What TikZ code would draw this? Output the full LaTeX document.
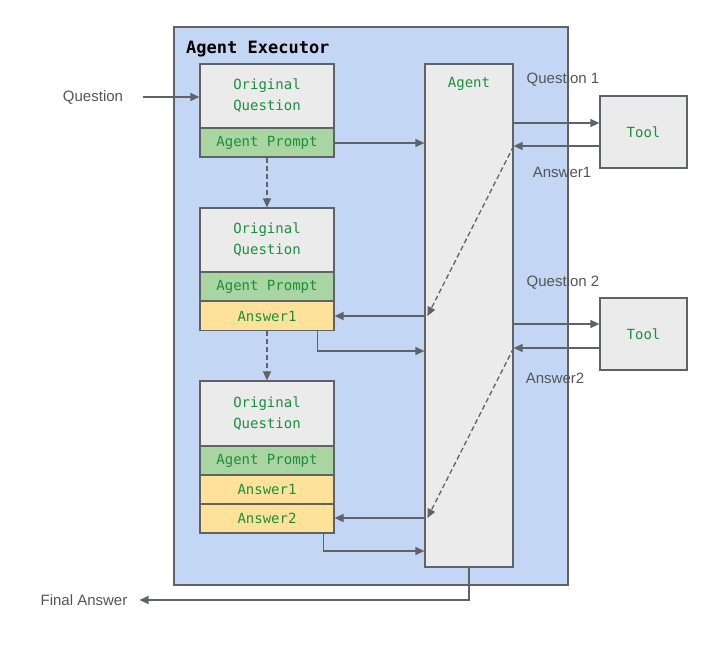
\documentclass[tikz,border=0pt]{standalone}
\usepackage{fontspec}
\setmainfont{Liberation Sans}
\setmonofont{DejaVu Sans Mono}
\usetikzlibrary{arrows.meta}

\definecolor{execblue}{HTML}{C3D7F4}
\definecolor{edgegray}{HTML}{5F6368}
\definecolor{boxgray}{HTML}{EBEBEB}
\definecolor{promptgreen}{HTML}{A8D5A2}
\definecolor{answeryellow}{HTML}{FFE29A}
\definecolor{textgreen}{HTML}{1E8E3E}
\definecolor{labelgray}{HTML}{555555}

\begin{document}
\begin{tikzpicture}[x=1pt,y=-1pt]
\tikzstyle{every node}+=[font=\fontsize{14}{17}\selectfont]
\tikzstyle{cell}=[draw=edgegray,line width=1.2pt,minimum width=134pt,inner sep=0pt,text=textgreen,font=\ttfamily\fontsize{14}{21}\selectfont,align=center]
\tikzstyle{origq}=[cell,fill=boxgray,minimum height=64pt]
\tikzstyle{prompt}=[cell,fill=promptgreen,minimum height=29pt]
\tikzstyle{answer}=[cell,fill=answeryellow,minimum height=29pt]
\tikzstyle{toolbox}=[cell,fill=boxgray,minimum width=87pt,minimum height=72pt]
\tikzstyle{lbl}=[text=labelgray,font=\fontsize{15}{18}\selectfont,inner sep=0pt]
\tikzstyle{flow}=[draw=edgegray,line width=1.4pt,-{Triangle[length=9pt,width=8pt]}]
\tikzstyle{back}=[flow,dash pattern=on 5pt off 3pt,line width=1.3pt]
\useasboundingbox (0,0) rectangle (726,653);
% executor frame
\draw [draw=edgegray,line width=1.2pt,fill=execblue] (174,27) rectangle (568,585);
\node [anchor=west,inner sep=0pt,font=\ttfamily\bfseries\fontsize{17}{20}\selectfont] (exectitle) at (186,49) {Agent Executor};
% first prompt
\node [origq] (oqa) at (267,96) {Original\\Question};
\node [prompt] (apa) at (267,142.5) {Agent Prompt};
% second prompt
\node [origq] (oqb) at (267,240) {Original\\Question};
\node [prompt] (apb) at (267,286.5) {Agent Prompt};
\node [answer] (ansb) at (267,316) {Answer1};
% third prompt
\node [origq,minimum height=65pt] (oqc) at (267,413.5) {Original\\Question};
\node [prompt] (apc) at (267,460.5) {Agent Prompt};
\node [answer] (ansca) at (267,489.5) {Answer1};
\node [answer] (anscb) at (267,518.5) {Answer2};
% agent and tools
\node [cell,fill=boxgray,minimum width=88pt,minimum height=503pt] (agent) at (469,315.5) {};
\node [text=textgreen,font=\ttfamily\fontsize{14}{17}\selectfont] (agentlbl) at (469,84) {Agent};
\node [toolbox] (toola) at (643.5,132) {Tool};
\node [toolbox] (toolb) at (643.5,334) {Tool};
% outside labels
\node [lbl] (question) at (93,97) {Question};
\node [lbl] (finalans) at (84,600) {Final Answer};
\node [lbl] (qalbl) at (563,79) {Question 1};
\node [lbl] (aalbl) at (562,172) {Answer1};
\node [lbl] (qblbl) at (563,282) {Question 2};
\node [lbl] (ablbl) at (555,378) {Answer2};
% connectors
\draw [flow] ([xshift=20pt]question.east) -- (oqa.west |- question);
\draw [flow] (apa.east |- 0,143) -- (agent.west |- 0,143);
\draw [back] (apa.south) -- (oqb.north);
\draw [back] (ansb.south) -- (oqc.north);
\draw [flow] (agent.west |- ansb) -- (ansb.east);
\draw [flow] ([xshift=-17pt]ansb.south east) |- (agent.west |- 0,351);
\draw [flow] (agent.west |- 0,518) -- (anscb.east |- 0,518);
\draw [flow] ([xshift=-11pt]anscb.south east) |- (agent.west |- 0,551);
\draw [flow] (agent.east |- 0,123) -- (toola.west |- 0,123);
\draw [flow] (toola.west |- 0,146) -- (agent.east |- 0,146);
\draw [flow] (agent.east |- 0,324) -- (toolb.west |- 0,324);
\draw [flow] (toolb.west |- 0,348) -- (agent.east |- 0,348);
\draw [back] (agent.east |- 0,146) -- ([xshift=3pt]agent.west |- ansb);
\draw [back] (agent.east |- 0,348) -- ([xshift=3pt]agent.west |- 0,518);
\draw [flow] (agent.south) |- ([xshift=12pt]finalans.east);
\end{tikzpicture}
\end{document}
